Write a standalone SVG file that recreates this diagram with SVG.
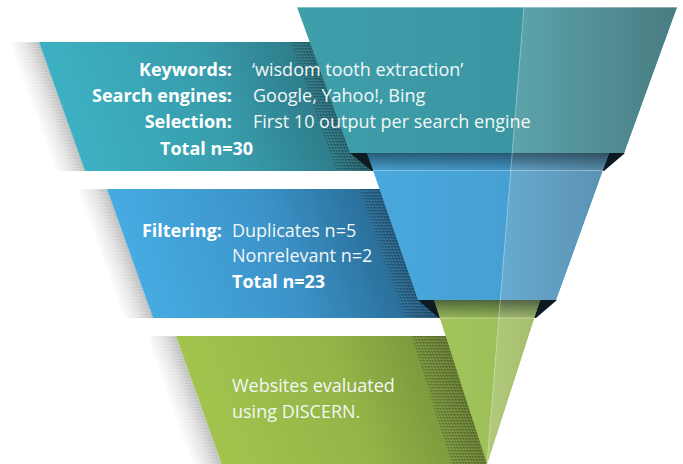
<svg xmlns="http://www.w3.org/2000/svg" width="683" height="464" viewBox="0 0 683 464">
  <style>
    .lbl { font-family: "Open Sans", "Liberation Sans", sans-serif; font-size: 18px; font-weight: 700; fill: #ffffff; }
    .val { font-family: "Open Sans", "Liberation Sans", sans-serif; font-size: 18px; font-weight: 400; fill: #f2f7f7; }
    .junction { fill: #0e1a22; }
    .edge { stroke: #ffffff; stroke-opacity: 0.35; stroke-width: 1; fill: none; }
  </style>
  <defs>
    <!-- fine dot texture used for the cast shadows -->
    <pattern id="dotsDark" width="3" height="3" patternUnits="userSpaceOnUse">
      <rect x="0" y="0" width="1.5" height="1.5" fill="#000000" fill-opacity="0.24"/>
      <rect x="1.5" y="1.5" width="1.5" height="1.5" fill="#ffffff" fill-opacity="0.12"/>
    </pattern>
    <pattern id="dotsLight" width="3" height="3" patternUnits="userSpaceOnUse">
      <rect x="0" y="0" width="1.5" height="1.5" fill="#ffffff" fill-opacity="0.35"/>
    </pattern>

    <!-- grey drop shadow to the left of each band -->
    <linearGradient id="sideShadow" x1="0" y1="0" x2="1" y2="0">
      <stop offset="0" stop-color="#ffffff"/>
      <stop offset="0.55" stop-color="#e2e2e2"/>
      <stop offset="1" stop-color="#bcbcbc"/>
    </linearGradient>
    <linearGradient id="bandShade" x1="0" y1="0" x2="1" y2="0">
      <stop offset="0" stop-color="#000000" stop-opacity="0.04"/>
      <stop offset="1" stop-color="#000000" stop-opacity="0.2"/>
    </linearGradient>

    <!-- band fills -->
    <linearGradient id="band1" x1="0" y1="0" x2="1" y2="0">
      <stop offset="0" stop-color="#3cb1c3"/>
      <stop offset="0.5" stop-color="#389cab"/>
      <stop offset="0.8" stop-color="#2e7d8b"/>
      <stop offset="1" stop-color="#25646f"/>
    </linearGradient>
    <linearGradient id="band2" x1="0" y1="0" x2="1" y2="0">
      <stop offset="0" stop-color="#46abe1"/>
      <stop offset="0.5" stop-color="#3c93c8"/>
      <stop offset="0.78" stop-color="#2d76a3"/>
      <stop offset="1" stop-color="#255f85"/>
    </linearGradient>
    <linearGradient id="band3" x1="0" y1="0" x2="1" y2="0">
      <stop offset="0" stop-color="#a2c44e"/>
      <stop offset="0.5" stop-color="#94b447"/>
      <stop offset="0.75" stop-color="#7f9c3e"/>
      <stop offset="1" stop-color="#6f8936"/>
    </linearGradient>

    <!-- funnel section fills: main face and lighter right face -->
    <linearGradient id="tealL" x1="0" y1="0" x2="1" y2="0">
      <stop offset="0" stop-color="#3e9fab"/>
      <stop offset="1" stop-color="#378f9a"/>
    </linearGradient>
    <linearGradient id="tealR" x1="0" y1="0" x2="1" y2="0">
      <stop offset="0" stop-color="#5ca4ac"/>
      <stop offset="1" stop-color="#497c82"/>
    </linearGradient>
    <linearGradient id="blueL" x1="0" y1="0" x2="1" y2="0">
      <stop offset="0" stop-color="#4aa9dd"/>
      <stop offset="1" stop-color="#4399cc"/>
    </linearGradient>
    <linearGradient id="blueR" x1="0" y1="0" x2="1" y2="0">
      <stop offset="0" stop-color="#67abd2"/>
      <stop offset="1" stop-color="#5a90b0"/>
    </linearGradient>
    <linearGradient id="greenL" x1="0" y1="0" x2="1" y2="0">
      <stop offset="0" stop-color="#a3c55c"/>
      <stop offset="1" stop-color="#9bbc56"/>
    </linearGradient>
    <linearGradient id="greenR" x1="0" y1="0" x2="1" y2="0">
      <stop offset="0" stop-color="#b2ca7c"/>
      <stop offset="1" stop-color="#a4bd6a"/>
    </linearGradient>
    <!-- darker rim at the top of the lower funnel sections -->
    <linearGradient id="rim" x1="0" y1="0" x2="0" y2="1">
      <stop offset="0" stop-color="#0e1a22" stop-opacity="0.55"/>
      <stop offset="1" stop-color="#0e1a22" stop-opacity="0.08"/>
    </linearGradient>
  </defs>

  <!-- Stage 1: search -->
  <g id="stage-search">
    <g transform="skewX(19.65)">
      <rect x="-6" y="42" width="30" height="129" fill="url(#sideShadow)"/>
      <rect x="-6" y="42" width="30" height="129" fill="url(#dotsLight)"/>
      <rect x="24" y="42" width="316" height="129" fill="url(#band1)"/>
      <rect x="276" y="42" width="38" height="129" fill="url(#bandShade)"/>
      <rect x="276" y="42" width="38" height="129" fill="url(#dotsDark)"/>
    </g>
    <polygon points="297,7 677,7 624,153 350,153" fill="url(#tealL)"/>
    <polygon points="524,7 677,7 624,153 512.2,153" fill="url(#tealR)"/>
    <line class="edge" x1="297" y1="7.5" x2="677" y2="7.5"/>
    <line class="edge" x1="524" y1="7" x2="512.2" y2="153"/>
    <text class="lbl" x="232" y="76" text-anchor="end">Keywords:</text>
    <text class="lbl" x="232" y="102" text-anchor="end">Search engines:</text>
    <text class="lbl" x="232" y="128" text-anchor="end">Selection:</text>
    <text class="lbl" x="160" y="155">Total n=30</text>
    <text class="val" x="252" y="76">‘wisdom tooth extraction’</text>
    <text class="val" x="253" y="102">Google, Yahoo!, Bing</text>
    <text class="val" x="253" y="128">First 10 output per search engine</text>
  </g>

  <!-- Stage 2: filtering -->
  <g id="stage-filter">
    <g transform="skewX(19.65)">
      <rect x="9.5" y="189" width="30" height="129" fill="url(#sideShadow)"/>
      <rect x="9.5" y="189" width="30" height="129" fill="url(#dotsLight)"/>
      <rect x="39.5" y="189" width="300.5" height="129" fill="url(#band2)"/>
      <rect x="292" y="189" width="38" height="129" fill="url(#bandShade)"/>
      <rect x="292" y="189" width="38" height="129" fill="url(#dotsDark)"/>
    </g>
    <polygon class="junction" points="350,153 625,153 604,171 372,171"/>
    <polygon points="367,153 609,153 556,300 418,300" fill="url(#blueL)"/>
    <polygon points="512.2,153 609,153 556,300 500.3,300" fill="url(#blueR)"/>
    <polygon points="367,153 609,153 603,170.5 373,170.5" fill="url(#rim)"/>
    <line class="edge" x1="373" y1="170.5" x2="603" y2="170.5"/>
    <line class="edge" x1="512.2" y1="153" x2="500.3" y2="300"/>
    <text class="lbl" x="222" y="237" text-anchor="end">Filtering:</text>
    <text class="val" x="232" y="237">Duplicates n=5</text>
    <text class="val" x="232" y="262">Nonrelevant n=2</text>
    <text class="lbl" x="232" y="288">Total n=23</text>
  </g>

  <!-- Stage 3: evaluation -->
  <g id="stage-evaluate">
    <g transform="skewX(19.65)">
      <rect x="26" y="336" width="30" height="129" fill="url(#sideShadow)"/>
      <rect x="26" y="336" width="30" height="129" fill="url(#dotsLight)"/>
      <polygon points="56,336 360,336 321,465 56,465" fill="url(#band3)"/>
      <polygon points="292,336 340,336 321,465 286,465" fill="url(#bandShade)"/>
      <polygon points="292,336 340,336 321,465 286,465" fill="url(#dotsDark)"/>
    </g>
    <polygon class="junction" points="418,300 557,300 536,318 439,318"/>
    <polygon points="434,300 540,300 487,464" fill="url(#greenL)"/>
    <polygon points="500.3,300 540,300 487,464" fill="url(#greenR)"/>
    <polygon points="434,300 540,300 534.2,318 439.8,318" fill="url(#rim)"/>
    <line class="edge" x1="439.8" y1="318" x2="534.2" y2="318"/>
    <line class="edge" x1="500.3" y1="300" x2="487" y2="464"/>
    <text class="val" x="232" y="392">Websites evaluated</text>
    <text class="val" x="232" y="418">using DISCERN.</text>
  </g>
</svg>
